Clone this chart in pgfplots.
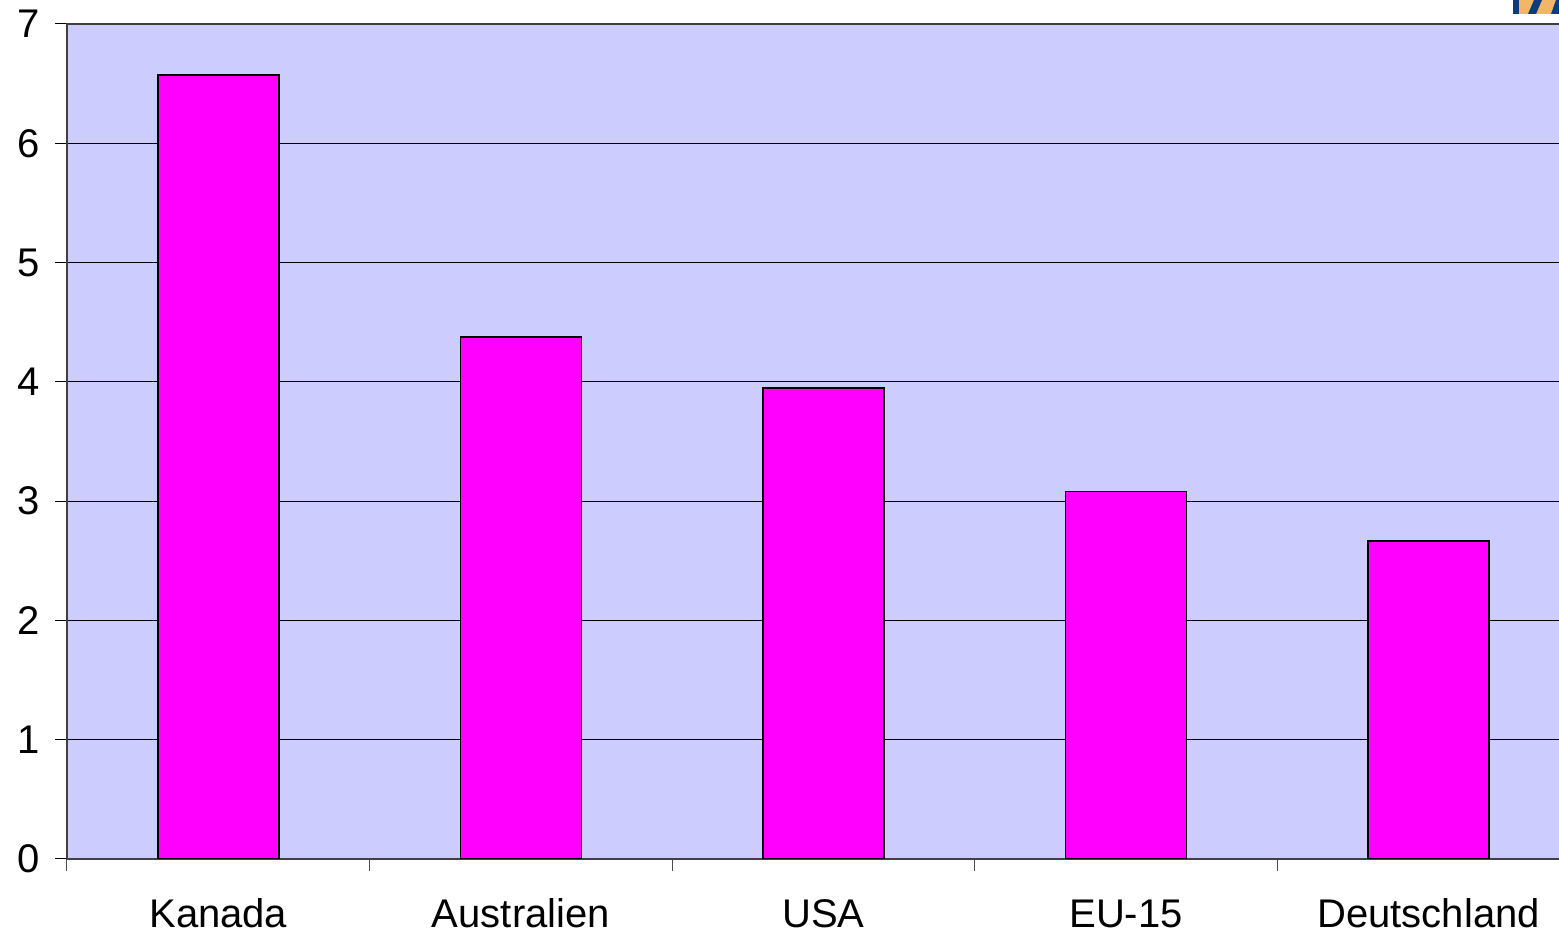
\documentclass[border=0pt]{standalone}
\usepackage{pgfplots}
\pgfplotsset{compat=1.18}
\usepackage{fontspec}
\setmainfont{Liberation Sans}
\definecolor{bgblue}{HTML}{CCCCFF}
\definecolor{barmag}{HTML}{FF00FF}
\definecolor{logoblue}{HTML}{0B3C7D}
\definecolor{logoorange}{HTML}{F2B766}
\begin{document}
\begin{tikzpicture}
\useasboundingbox (0,0) rectangle (779.5pt,468pt);
\begin{axis}[
  at={(33.5pt,38.5pt)}, anchor=south west, scale only axis,
  width=756.5pt, height=417.5pt,
  xmin=-0.5, xmax=4.5, ymin=0, ymax=7,
  ybar, bar width=60.5pt,
  axis background/.style={fill=bgblue},
  ytick={0,1,...,7},
  ymajorgrids, grid style={black, line width=0.5pt},
  xtick={0,1,2,3,4},
  xticklabels={Kanada,Australien,USA,EU-15,Deutschland},
  minor xtick={-0.5,0.5,1.5,2.5,3.5,4.5},
  xtick pos=bottom, ytick pos=left,
  tick align=outside,
  major tick length=6pt, minor tick length=6pt,
  xtick style={draw=none},
  minor x tick style={draw=black!70, line width=0.5pt},
  ytick style={draw=black, line width=0.5pt},
  x axis line style={draw=black!45, line width=0.75pt},
  y axis line style={draw=black!75, line width=0.75pt},
  /pgf/number format/assume math mode=true,
  tick label style={font=\fontsize{20}{24}\selectfont},
  xticklabel style={anchor=base, yshift=-28.5pt},
  yticklabel style={xshift=-4pt},
]
\addplot[fill=barmag, draw=black, line width=0.8pt]
  coordinates {(0,6.57) (1,4.375) (2,3.95) (3,3.08) (4,2.665)};
\end{axis}
% partial logo at top right
\fill[logoorange] (756.5pt,461pt) rectangle (779.5pt,468pt);
\fill[logoblue] (756.5pt,461pt) rectangle (759.5pt,468pt);
\fill[logoblue] (764pt,461pt) -- (768pt,461pt) -- (771pt,468pt) -- (767pt,468pt) -- cycle;
\fill[logoblue] (775.5pt,461pt) -- (779.5pt,461pt) -- (779.5pt,468pt) -- (778pt,468pt) -- cycle;
\end{tikzpicture}
\end{document}
